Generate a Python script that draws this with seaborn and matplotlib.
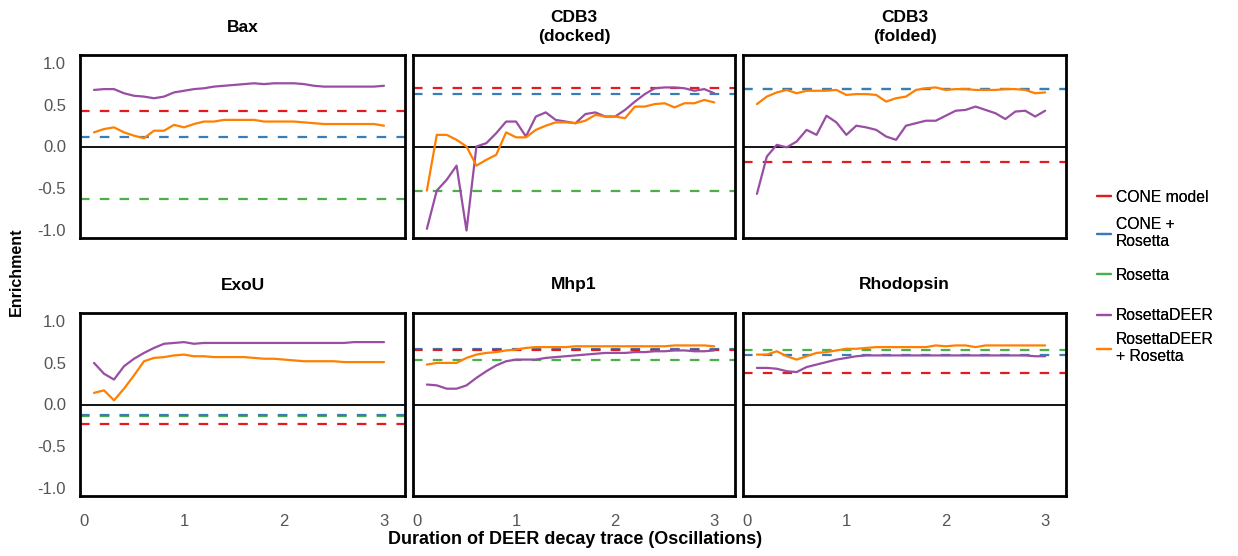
import matplotlib
matplotlib.use("Agg")
import matplotlib.pyplot as plt
import seaborn as sns
import pandas as pd
from matplotlib.lines import Line2D

sns.set_style("white")
plt.rcParams['font.family'] = ['Liberation Sans', 'DejaVu Sans']
plt.rcParams['text.color'] = 'black'

# duration of DEER trace (oscillations)
durations = [0.1, 0.2, 0.3, 0.4, 0.5, 0.6, 0.7, 0.8, 0.9, 1.0,
             1.1, 1.2, 1.3, 1.4, 1.5, 1.6, 1.7, 1.8, 1.9, 2.0,
             2.1, 2.2, 2.3, 2.4, 2.5, 2.6, 2.7, 2.8, 2.9, 3.0]

proteins = ["Bax", "CDB3\n(docked)", "CDB3\n(folded)", "ExoU", "Mhp1", "Rhodopsin"]

# constant references: CONE model, CONE + Rosetta, Rosetta
cone_model = [0.43, 0.70, -0.19, -0.24, 0.65, 0.38]
cone_rosetta = [0.12, 0.63, 0.69, -0.13, 0.67, 0.60]
rosetta = [-0.63, -0.53, 0.69, -0.14, 0.53, 0.65]

# RosettaDEER enrichment per protein
deer_bax = [0.68, 0.69, 0.69, 0.64, 0.61, 0.60, 0.58, 0.60, 0.65, 0.67,
            0.69, 0.70, 0.72, 0.73, 0.74, 0.75, 0.76, 0.75, 0.76, 0.76,
            0.76, 0.75, 0.73, 0.72, 0.72, 0.72, 0.72, 0.72, 0.72, 0.73]
deer_docked = [-0.99, -0.53, -0.40, -0.23, -1.01, 0.00, 0.04, 0.16, 0.30, 0.30,
               0.12, 0.36, 0.41, 0.32, 0.30, 0.28, 0.39, 0.41, 0.36, 0.36,
               0.44, 0.54, 0.63, 0.70, 0.71, 0.71, 0.70, 0.67, 0.69, 0.64]
deer_folded = [-0.57, -0.12, 0.02, -0.01, 0.06, 0.20, 0.14, 0.37, 0.29, 0.14,
               0.25, 0.23, 0.20, 0.12, 0.08, 0.25, 0.28, 0.31, 0.31, 0.37,
               0.43, 0.44, 0.48, 0.44, 0.40, 0.33, 0.42, 0.43, 0.36, 0.43]
deer_exou = [0.50, 0.37, 0.30, 0.46, 0.55, 0.62, 0.68, 0.73, 0.74, 0.75,
             0.73, 0.74, 0.74, 0.74, 0.74, 0.74, 0.74, 0.74, 0.74, 0.74,
             0.74, 0.74, 0.74, 0.74, 0.74, 0.74, 0.75, 0.75, 0.75, 0.75]
deer_mhp1 = [0.24, 0.23, 0.19, 0.19, 0.23, 0.32, 0.40, 0.47, 0.52, 0.54,
             0.54, 0.54, 0.56, 0.57, 0.58, 0.59, 0.60, 0.61, 0.62, 0.62,
             0.62, 0.63, 0.63, 0.64, 0.64, 0.65, 0.65, 0.64, 0.64, 0.65]
deer_rhodo = [0.44, 0.44, 0.43, 0.40, 0.39, 0.45, 0.48, 0.51, 0.54, 0.56,
              0.58, 0.59, 0.59, 0.59, 0.59, 0.59, 0.59, 0.59, 0.59, 0.59,
              0.59, 0.59, 0.59, 0.59, 0.59, 0.59, 0.59, 0.59, 0.58, 0.58]

# RosettaDEER + Rosetta
comb_bax = [0.17, 0.21, 0.23, 0.17, 0.13, 0.10, 0.19, 0.19, 0.26, 0.23,
            0.27, 0.30, 0.30, 0.32, 0.32, 0.32, 0.32, 0.30, 0.30, 0.30,
            0.30, 0.29, 0.28, 0.27, 0.27, 0.27, 0.27, 0.27, 0.27, 0.25]
comb_docked = [-0.53, 0.14, 0.14, 0.08, 0.00, -0.23, -0.16, -0.10, 0.17, 0.11,
               0.11, 0.20, 0.25, 0.29, 0.29, 0.28, 0.31, 0.38, 0.36, 0.36,
               0.34, 0.48, 0.48, 0.51, 0.52, 0.47, 0.52, 0.52, 0.56, 0.53]
comb_folded = [0.51, 0.60, 0.65, 0.68, 0.64, 0.67, 0.67, 0.67, 0.68, 0.62,
               0.63, 0.63, 0.62, 0.54, 0.58, 0.60, 0.68, 0.70, 0.71, 0.68,
               0.69, 0.69, 0.68, 0.68, 0.68, 0.69, 0.69, 0.68, 0.64, 0.65]
comb_exou = [0.14, 0.17, 0.05, 0.19, 0.35, 0.52, 0.56, 0.57, 0.59, 0.60,
             0.58, 0.58, 0.57, 0.57, 0.57, 0.57, 0.56, 0.55, 0.55, 0.54,
             0.53, 0.52, 0.52, 0.52, 0.52, 0.51, 0.51, 0.51, 0.51, 0.51]
comb_mhp1 = [0.48, 0.50, 0.50, 0.50, 0.56, 0.60, 0.62, 0.63, 0.65, 0.66,
             0.68, 0.69, 0.69, 0.69, 0.69, 0.70, 0.70, 0.70, 0.70, 0.70,
             0.70, 0.70, 0.70, 0.70, 0.70, 0.71, 0.71, 0.71, 0.71, 0.70]
comb_rhodo = [0.60, 0.60, 0.64, 0.58, 0.54, 0.58, 0.62, 0.63, 0.65, 0.67,
              0.67, 0.68, 0.69, 0.69, 0.69, 0.69, 0.69, 0.69, 0.71, 0.70,
              0.71, 0.71, 0.69, 0.71, 0.71, 0.71, 0.71, 0.71, 0.71, 0.71]

deer_all = [deer_bax, deer_docked, deer_folded, deer_exou, deer_mhp1, deer_rhodo]
comb_all = [comb_bax, comb_docked, comb_folded, comb_exou, comb_mhp1, comb_rhodo]

labels = ["CONE model", "CONE +\nRosetta", "Rosetta", "RosettaDEER", "RosettaDEER\n+ Rosetta"]
colors = ["#e41a1c", "#377eb8", "#4daf4a", "#984ea3", "#ff7f00"]

rows = []
for i, p in enumerate(proteins):
    for d, a, b in zip(durations, deer_all[i], comb_all[i]):
        rows.append({"protein": p, "duration": d, "method": "RosettaDEER", "enrichment": a})
        rows.append({"protein": p, "duration": d, "method": "RosettaDEER + Rosetta", "enrichment": b})
df = pd.DataFrame(rows)

W, H = 1238, 556
fig = plt.figure(figsize=(W / 100, H / 100), dpi=100)

lefts = [80, 413, 743]
widths = [325, 322, 323]
tops = [55, 313]
ph = 183

tick_gray = "#555555"
for i, p in enumerate(proteins):
    r, c = divmod(i, 3)
    ax = fig.add_axes([lefts[c] / W, 1 - (tops[r] + ph) / H, widths[c] / W, ph / H])
    ax.axhline(0, color="black", lw=1.3, zorder=1)
    for val, col in zip([rosetta[i], cone_rosetta[i], cone_model[i]],
                        [colors[2], colors[1], colors[0]]):
        ax.axhline(val, color=col, lw=1.6, dashes=(4.3, 4.6), zorder=2)
    sns.lineplot(data=df[df.protein == p], x="duration", y="enrichment", hue="method",
                 palette={"RosettaDEER": colors[3], "RosettaDEER + Rosetta": colors[4]},
                 lw=1.6, legend=False, ax=ax, zorder=3)
    ax.set_xlim(-0.04, 3.21)
    ax.set_ylim(-1.1, 1.1)
    ax.set_xlabel("")
    ax.set_ylabel("")
    ax.text(0.5, 1 + 28 / ph, p, transform=ax.transAxes, ha="center", va="center",
            fontsize=12.5, fontweight="bold", linespacing=1.25, color="black")
    for s in ax.spines.values():
        s.set_linewidth(2.0)
        s.set_color("black")
    ax.tick_params(length=0, labelsize=12, labelcolor=tick_gray)
    ax.set_yticks([-1.0, -0.5, 0.0, 0.5, 1.0])
    ax.set_xticks([0, 1, 2, 3])
    if c == 0:
        ax.set_yticklabels(["-1.0", "-0.5", "0.0", "0.5", "1.0"])
        ax.tick_params(axis="y", pad=10)
    else:
        ax.set_yticklabels([])
    if r == 1:
        ax.tick_params(axis="x", pad=13)
    else:
        ax.set_xticklabels([])

fig.text(16 / W, 1 - 272 / H, "Enrichment", rotation=90, fontsize=11.5, fontweight="bold",
         ha="center", va="center", color="black")
fig.text(575 / W, 1 - 540 / H, "Duration of DEER decay trace (Oscillations)", fontsize=13,
         fontweight="bold", ha="center", va="center", color="black")

# one legend entry per row so each sits where the reference puts it
legend_y = [197, 233, 275, 316, 348]
for lab, col, y in zip(labels, colors, legend_y):
    leg = fig.legend([Line2D([0], [0], color=col, lw=1.6)], [lab], loc="center left",
                     bbox_to_anchor=(1091 / W, 1 - y / H), frameon=False, fontsize=11.3,
                     handlelength=0.9, handletextpad=0.3, borderaxespad=0)
    fig.add_artist(leg)

fig.savefig("out.png", dpi=100)
